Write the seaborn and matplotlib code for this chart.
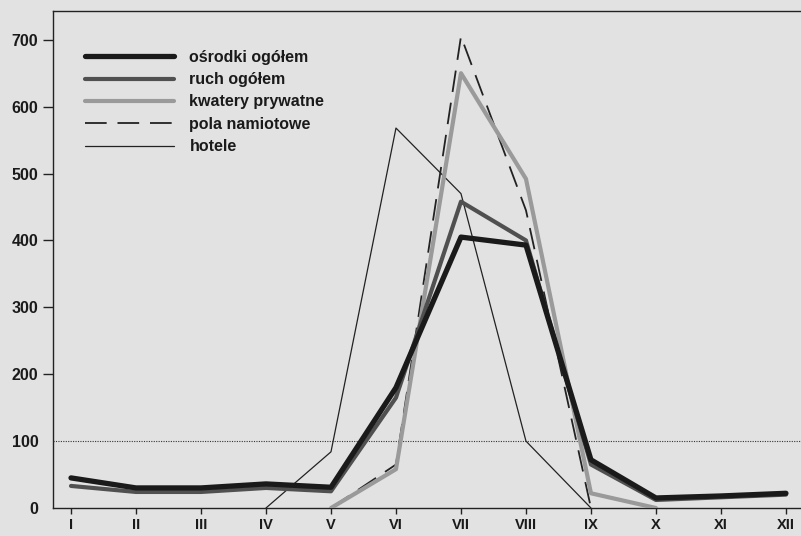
import numpy as np
import pandas as pd
import seaborn as sns
import matplotlib.pyplot as plt

# miesiące i wartości
miesiace = ['I', 'II', 'III', 'IV', 'V', 'VI', 'VII', 'VIII', 'IX', 'X', 'XI', 'XII']
nan = np.nan
osrodki = [45, 30, 30, 36, 31, 180, 405, 393, 72, 15, 18, 22]
ruch = [33, 24, 24, 30, 25, 165, 458, 400, 65, 12, 16, 20]
kwatery = [nan, nan, nan, nan, 0, 58, 650, 492, 22, 0, nan, nan]
pola = [nan, nan, nan, nan, 0, 65, 705, 445, 0, nan, nan, nan]
hotele = [nan, nan, nan, 0, 84, 568, 470, 100, 0, nan, nan, nan]
yticks = [0, 100, 200, 300, 400, 500, 600, 700]

sns.set_theme(style='white')
plt.rcParams['font.family'] = ['Liberation Sans', 'DejaVu Sans']
tlo = '#e2e2e2'

fig = plt.figure(figsize=(8.01, 5.36), dpi=100, facecolor=tlo)
ax = fig.add_axes([53/801, 28/536, 757/801, 497/536], facecolor=tlo)

x = np.arange(len(miesiace))
df = pd.DataFrame({'x': x, 'osrodki': osrodki, 'ruch': ruch, 'kwatery': kwatery,
                   'pola': pola, 'hotele': hotele})

ax.axhline(100, color='#333333', lw=0.8, ls=(0, (1, 1.2)), zorder=1)

sns.lineplot(data=df, x='x', y='hotele', ax=ax, color='#222222', lw=0.9,
             label='hotele', zorder=2)
sns.lineplot(data=df, x='x', y='pola', ax=ax, color='#222222', lw=1.3,
             dashes=False, label='pola namiotowe', zorder=3)
ax.lines[-1].set_dashes((12, 6))
sns.lineplot(data=df, x='x', y='kwatery', ax=ax, color='#9a9a9a', lw=3.0,
             label='kwatery prywatne', zorder=4)
sns.lineplot(data=df, x='x', y='ruch', ax=ax, color='#505050', lw=3.0,
             label='ruch ogółem', zorder=5)
sns.lineplot(data=df, x='x', y='osrodki', ax=ax, color='#1a1a1a', lw=3.8,
             label='ośrodki ogółem', zorder=6)

ax.set_xlim(-0.277, 11.37)
ax.set_ylim(0, 743)
ax.set_xticks(x)
ax.set_xticklabels(miesiace)
ax.set_yticks(yticks)
ax.set_yticklabels([str(v) for v in yticks])
ax.set_xlabel('')
ax.set_ylabel('')

for s in ['left', 'bottom', 'top']:
    ax.spines[s].set_color('#222222')
    ax.spines[s].set_linewidth(1.0)
ax.spines['right'].set_visible(False)

ax.tick_params(axis='y', direction='out', length=7, width=1.0, color='#222222',
               pad=3.5, labelsize=11.5, left=True)
ax.tick_params(axis='x', direction='out', length=4, width=1.0, color='#222222',
               pad=3, labelsize=10.5, bottom=True)
for lab in ax.get_xticklabels() + ax.get_yticklabels():
    lab.set_fontweight('bold')
    lab.set_color('#1a1a1a')
# przy 0 i 100 brak kreski
for t in ax.yaxis.get_major_ticks()[:2]:
    t.tick1line.set_visible(False)

h, l = ax.get_legend_handles_labels()
leg = ax.legend(h[::-1], l[::-1], loc='upper left', bbox_to_anchor=(0.042, 0.922),
                frameon=False, handlelength=5.6, handletextpad=0.95,
                labelspacing=0.46, borderpad=0, borderaxespad=0,
                prop={'size': 11.5, 'weight': 'bold'})
for t in leg.get_texts():
    t.set_color('#1a1a1a')

fig.savefig('out.png', dpi=100, facecolor=tlo)
